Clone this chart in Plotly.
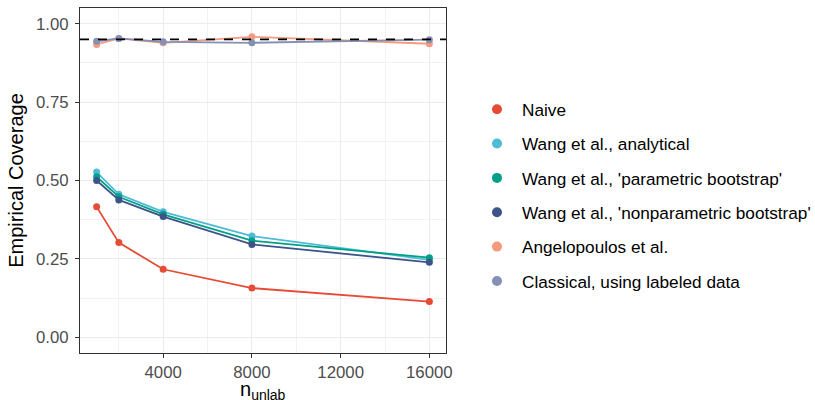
import plotly.graph_objects as go

n_unlab = [1000, 2000, 4000, 8000, 16000]
series_names = [
    "Naive",
    "Wang et al., analytical",
    "Wang et al., 'parametric bootstrap'",
    "Wang et al., 'nonparametric bootstrap'",
    "Angelopoulos et al.",
    "Classical, using labeled data",
]
naive = [0.416, 0.302, 0.217, 0.157, 0.114]
wang_analytical = [0.527, 0.456, 0.400, 0.323, 0.247]
wang_param = [0.512, 0.448, 0.392, 0.308, 0.254]
wang_nonparam = [0.500, 0.438, 0.385, 0.296, 0.239]
angelopoulos = [0.934, 0.953, 0.939, 0.958, 0.936]
classical = [0.944, 0.953, 0.942, 0.939, 0.949]
target_coverage = 0.95

colors = ["#E64B35", "#4DBBD5", "#00A087", "#3C5488", "#F39B7F", "#8491B4"]
all_series = [naive, wang_analytical, wang_param, wang_nonparam, angelopoulos, classical]

x_ticks = [4000, 8000, 12000, 16000]
y_ticks = [0.0, 0.25, 0.5, 0.75, 1.0]
y_tick_labels = ["0.00", "0.25", "0.50", "0.75", "1.00"]

FONT = "Liberation Sans, Arial, Helvetica, sans-serif"

fig = go.Figure()
for name, vals, col in zip(series_names, all_series, colors):
    fig.add_trace(go.Scatter(
        x=n_unlab, y=vals, mode="lines+markers", name=name, showlegend=False,
        line=dict(color=col, width=1.8), marker=dict(color=col, size=7),
    ))
for i, (name, col) in enumerate(zip(series_names, colors)):
    fig.add_trace(go.Scatter(
        x=[None], y=[None], mode="markers", name=name, showlegend=True,
        legendgroup=f"g{i}",
        marker=dict(color=col, size=10),
    ))

fig.add_shape(type="line", xref="paper", x0=0, x1=1, yref="y",
              y0=target_coverage, y1=target_coverage,
              line=dict(color="black", width=1.6, dash="dash"), layer="above")

# x-axis title as annotation (placed tight under tick labels as in the reference)
fig.add_annotation(
    text="n<sub>unlab</sub>", xref="paper", yref="paper", x=0.5, y=(353 - 376) / 345,
    xanchor="center", yanchor="top", showarrow=False,
    font=dict(size=20, color="black", family=FONT),
)

fig.update_layout(
    width=815, height=400,
    margin=dict(l=80, r=369, t=8, b=47, autoexpand=False),
    paper_bgcolor="white", plot_bgcolor="white",
    font=dict(family=FONT, color="black"),
    showlegend=True,
    legend=dict(
        xref="container", yref="container", x=472/815, y=1-195.5/400,
        xanchor="left", yanchor="middle",
        font=dict(size=17.2, color="black", family=FONT),
        traceorder="grouped", tracegroupgap=9,
        bgcolor="rgba(0,0,0,0)", itemwidth=40, maxheight=400,
    ),
    xaxis=dict(
        range=[250, 16750], tickvals=x_ticks, ticktext=[str(v) for v in x_ticks],
        automargin=False,
        showgrid=True, gridcolor="#EBEBEB", gridwidth=1.1,
        minor=dict(tickvals=[2000, 6000, 10000, 14000], showgrid=True,
                   gridcolor="#F2F2F2", gridwidth=0.6, ticks=""),
        zeroline=False, showline=True, linecolor="#333333", linewidth=1, mirror=True,
        ticks="outside", ticklen=4, tickcolor="#333333", tickwidth=1,
        tickfont=dict(size=16.8, color="#4D4D4D", family=FONT),
    ),
    yaxis=dict(
        range=[-0.05, 1.05], tickvals=y_ticks, ticktext=y_tick_labels,
        automargin=False,
        showgrid=True, gridcolor="#EBEBEB", gridwidth=1.1,
        minor=dict(tickvals=[0.125, 0.375, 0.625, 0.875], showgrid=True,
                   gridcolor="#F2F2F2", gridwidth=0.6, ticks=""),
        zeroline=False, showline=True, linecolor="#333333", linewidth=1, mirror=True,
        ticks="outside", ticklen=4, tickcolor="#333333", tickwidth=1,
        ticklabelstandoff=3,
        tickfont=dict(size=16.8, color="#4D4D4D", family=FONT),
        title=dict(text="Empirical Coverage", font=dict(size=20, color="black", family=FONT), standoff=6),
    ),
)

fig.write_html("out.html")
